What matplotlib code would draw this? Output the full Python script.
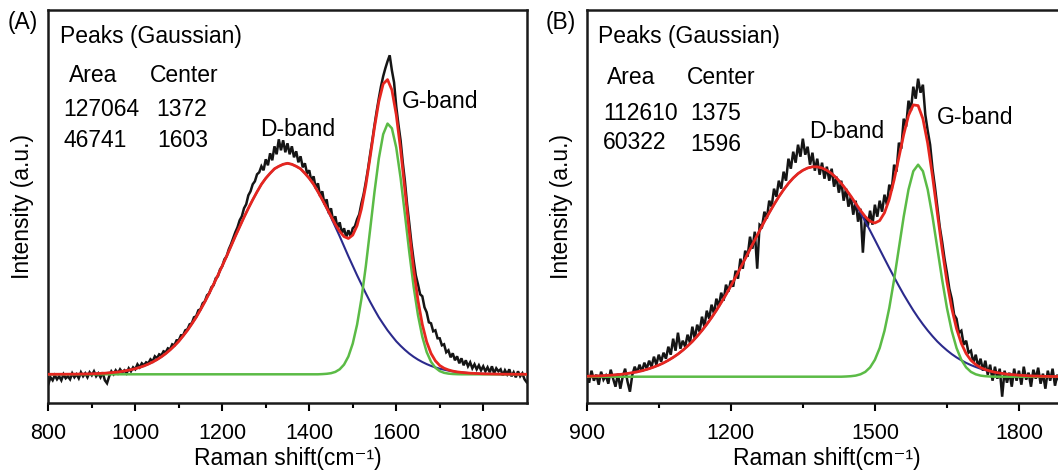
import numpy as np
import matplotlib
matplotlib.use("Agg")
import matplotlib.pyplot as plt
from matplotlib.ticker import FixedLocator

plt.rcParams['font.family'] = ['Liberation Sans', 'DejaVu Sans']

# ---------------- data: panel A ----------------
# measured spectrum, sampled every 5 cm-1 from 800 to 1900
spec_A_start, spec_A_step = 800, 5
spectrum_A = [
    -10, -3, -6, -1, -5, -2, -6, 0, -4, -2, -5, 1, -3, 0, -4, 2, -2, 1, -3, 2,
    -1, 3, -2, 1, -3, 2, -6, -9, -2, 3, 0, 4, 1, 5, 2, 4, 1, 6, 3, 7,
    5, 10, 7, 11, 9, 12, 11, 15, 13, 18, 16, 20, 19, 23, 22, 26, 25, 30, 29, 34,
    34, 39, 39, 44, 45, 50, 51, 57, 58, 64, 65, 71, 73, 79, 81, 87, 89, 96, 98, 105,
    108, 115, 118, 125, 130, 136, 142, 147, 154, 158, 166, 170, 179, 183, 190, 193, 200, 202, 208, 204,
    215, 209, 221, 214, 228, 220, 235, 224, 234, 222, 231, 220, 228, 217, 223, 212, 218, 207, 211, 201,
    204, 193, 198, 186, 191, 178, 183, 170, 175, 161, 166, 153, 158, 146, 152, 141, 146, 137, 144, 138,
    146, 148, 155, 160, 171, 180, 192, 205, 220, 234, 249, 263, 276, 288, 298, 306, 313, 319, 304, 292,
    268, 250, 234, 212, 193, 170, 151, 131, 114, 99, 90, 80, 78, 67, 62, 52, 51, 43, 44, 36,
    36, 29, 30, 22, 24, 17, 21, 14, 18, 11, 16, 9, 14, 8, 12, 6, 10, 5, 9, 4,
    8, 3, 7, 2, 8, 1, 6, 3, 5, -1, 4, 0, 5, -2, 2, -3, 3, -2, 1, -5, -8,
]
# fitted Gaussian components, sampled every 10 cm-1 from 800 to 1900
fit_A_start, fit_A_step = 800, 10
d_band_A = [
    0.03, 0.04, 0.05, 0.07, 0.1, 0.13, 0.17, 0.23, 0.3, 0.4,
    0.5, 0.7, 0.9, 1.1, 1.5, 1.9, 2.3, 2.9, 3.7, 4.6,
    5.6, 6.9, 8.4, 10.2, 12.3, 14.7, 17.5, 20.7, 24.4, 28.5,
    33, 38.4, 44, 50.4, 57, 64.6, 72.5, 81, 90, 99,
    108.5, 118, 128, 138, 147.5, 157, 166, 174.5, 182.5, 190,
    196, 201, 205.5, 208, 210, 211, 210, 208, 205.5, 201,
    196, 190, 182.5, 174.5, 166, 157, 147.5, 138, 128, 118,
    108.5, 99, 90, 81, 72.5, 64.6, 57, 50.4, 44, 38.4,
    33, 28.5, 24.4, 20.7, 17.5, 14.7, 12.3, 10.2, 8.4, 6.9,
    5.6, 4.6, 3.7, 2.9, 2.3, 1.9, 1.5, 1.1, 0.9, 0.7,
    0.5, 0.4, 0.3, 0.23, 0.17, 0.13, 0.1, 0.07, 0.05, 0.04, 0.03,
]
g_band_A = [
    0, 0, 0, 0, 0, 0, 0, 0, 0, 0,
    0, 0, 0, 0, 0, 0, 0, 0, 0, 0,
    0, 0, 0, 0, 0, 0, 0, 0, 0, 0,
    0, 0, 0, 0, 0, 0, 0, 0, 0, 0,
    0, 0, 0, 0, 0, 0, 0, 0, 0, 0,
    0, 0, 0, 0, 0, 0, 0, 0, 0, 0,
    0, 0, 0, 0.2, 0.5, 1.1, 2.4, 5.0, 9.7, 17.8,
    30.7, 49.7, 75.5, 107.8, 144.7, 182.3, 215.8, 240, 250.7, 246,
    226.8, 196.5, 159.9, 122.2, 87.7, 59.2, 37.5, 22.3, 12.5, 6.6,
    3.2, 1.5, 0.7, 0.3, 0.1, 0, 0, 0, 0, 0,
    0, 0, 0, 0, 0, 0, 0, 0, 0, 0, 0,
]
area_A = ["127064", "46741"]
center_A = ["1372", "1603"]
xticks_A = [800, 1000, 1200, 1400, 1600, 1800]
xminor_A = [900, 1100, 1300, 1500, 1700]
xlim_A = (800, 1900)

# ---------------- data: panel B ----------------
spec_B_start, spec_B_step = 900, 5
spectrum_B = [
    3, -6, 6, -4, 2, -8, 5, -3, 1, -7, 7, -2, -10, 3, -12, 0, 8, -5, -15, 2,
    10, 4, 12, 5, 14, 8, 16, 10, 20, 12, 22, 15, 24, 18, 30, 22, 38, 26, 44, 28,
    36, 30, 42, 34, 50, 38, 52, 45, 60, 50, 66, 58, 72, 63, 78, 70, 84, 76, 92, 85,
    96, 90, 106, 98, 118, 108, 126, 120, 140, 128, 145, 108, 152, 150, 165, 158, 176, 170, 188, 180,
    196, 188, 205, 196, 218, 208, 225, 214, 232, 220, 238, 222, 230, 212, 224, 206, 218, 202, 214, 198,
    210, 196, 208, 190, 200, 184, 196, 176, 188, 170, 180, 162, 176, 155, 168, 124, 160, 150, 166, 152,
    172, 160, 176, 165, 182, 172, 192, 186, 212, 205, 234, 228, 258, 250, 276, 266, 290, 278, 298, 284,
    292, 262, 246, 232, 208, 190, 170, 150, 135, 118, 104, 88, 78, 62, 58, 44, 46, 32, 36, 24,
    26, 14, 22, 10, 18, 6, 16, 2, 12, -4, 10, -2, 8, -20, 6, -6, 4, -10, 8, -4,
    6, -8, 10, -3, 4, -10, 7, -2, 9, -7, 3, -12, 6, -4, 8, -9, 2, -6, 7, -3, 2,
]
fit_B_start, fit_B_step = 900, 10
d_band_B = [
    0.4, 0.6, 0.7, 0.9, 1.2, 1.5, 1.9, 2.3, 2.9, 3.6,
    4.4, 5.4, 6.6, 8.0, 9.7, 11.6, 13.8, 16.4, 19.3, 22.6,
    26.4, 30.6, 35.2, 40.5, 46.2, 52.4, 59.1, 66.3, 74.1, 82.1,
    90.7, 99.6, 108.7, 118.0, 127.4, 136.8, 146.1, 155.2, 163.9, 172.2,
    180.0, 187.0, 193.3, 198.7, 203.1, 206.4, 208.7, 209.9, 209.9, 208.7,
    206.4, 203.1, 198.7, 193.3, 187.0, 180.0, 172.2, 163.9, 155.2, 146.1,
    136.8, 127.4, 118.0, 108.7, 99.6, 90.7, 82.1, 74.1, 66.3, 59.1,
    52.4, 46.2, 40.5, 35.2, 30.6, 26.4, 22.6, 19.3, 16.4, 13.8,
    11.6, 9.7, 8.0, 6.6, 5.4, 4.4, 3.6, 2.9, 2.3, 1.9,
    1.5, 1.2, 0.9, 0.7, 0.6, 0.4, 0.3, 0.2, 0.2, 0.1, 0.1,
]
g_band_B = [
    0, 0, 0, 0, 0, 0, 0, 0, 0, 0,
    0, 0, 0, 0, 0, 0, 0, 0, 0, 0,
    0, 0, 0, 0, 0, 0, 0, 0, 0, 0,
    0, 0, 0, 0, 0, 0, 0, 0, 0, 0,
    0, 0, 0, 0, 0, 0, 0, 0, 0, 0,
    0, 0, 0, 0, 0.2, 0.5, 1.1, 2.4, 4.8, 9.3,
    16.9, 28.7, 45.9, 68.8, 97.1, 128.6, 160, 187.1, 205.5, 212,
    205.5, 187.1, 160, 128.6, 97.1, 68.8, 45.9, 28.7, 16.9, 9.3,
    4.8, 2.4, 1.1, 0.5, 0.2, 0, 0, 0, 0, 0,
    0, 0, 0, 0, 0, 0, 0, 0, 0, 0, 0,
]
area_B = ["112610", "60322"]
center_B = ["1375", "1596"]
xticks_B = [900, 1200, 1500, 1800]
xminor_B = [1050, 1350, 1650]
xlim_B = (900, 1900)

# ---------------- styling ----------------
W, H = 1058, 471
fig = plt.figure(figsize=(W / 100, H / 100), dpi=100)

C_BLACK = '#151515'
C_RED = '#e6261f'
C_GREEN = '#5bbb46'
C_BLUE = '#2b2a8c'
FS = 16.5
TICK_FS = 15.5


def px_axes(l, t, r, b):
    return fig.add_axes([l / W, 1 - b / H, (r - l) / W, (b - t) / H])


def ftext(px, py, s, **kw):
    kw.setdefault('fontsize', FS)
    kw.setdefault('va', 'center')
    kw.setdefault('ha', 'left')
    fig.text(px / W, 1 - py / H, s, **kw)


def draw_panel(ax, spec_start, spec_step, spectrum, fit_start, fit_step,
               d_band, g_band, xlim, ylim, xticks, xminor):
    xs = spec_start + spec_step * np.arange(len(spectrum))
    xf = fit_start + fit_step * np.arange(len(d_band))
    d = np.array(d_band)
    g = np.array(g_band)
    ax.plot(xs, spectrum, color=C_BLACK, lw=1.8, zorder=2, solid_joinstyle='miter')
    ax.plot(xf, d, color=C_BLUE, lw=1.5, zorder=3)
    ax.plot(xf, g, color=C_GREEN, lw=1.8, zorder=4)
    ax.plot(xf, d + g, color=C_RED, lw=2.0, zorder=5)
    ax.set_xlim(*xlim)
    ax.set_ylim(*ylim)
    ax.set_yticks([])
    ax.xaxis.set_major_locator(FixedLocator(xticks))
    ax.xaxis.set_minor_locator(FixedLocator(xminor))
    ax.tick_params(axis='x', which='major', direction='out', length=6, width=1.5,
                   labelsize=TICK_FS, pad=8)
    ax.tick_params(axis='x', which='minor', direction='out', length=3.5, width=1.5)
    for s in ax.spines.values():
        s.set_linewidth(1.8)
        s.set_color('#1a1a1a')
    ax.set_xlabel('Raman shift(cm\u207b\u00b9)', fontsize=FS, labelpad=2)
    ax.set_ylabel('Intensity (a.u.)', fontsize=FS, labelpad=10)


axA = px_axes(48.3, 10, 526.7, 403.3)
draw_panel(axA, spec_A_start, spec_A_step, spectrum_A, fit_A_start, fit_A_step,
           d_band_A, g_band_A, xlim_A, (-29, 364.3), xticks_A, xminor_A)

axB = px_axes(586.7, 10, 1067, 403.3)
draw_panel(axB, spec_B_start, spec_B_step, spectrum_B, fit_B_start, fit_B_step,
           d_band_B, g_band_B, xlim_B, (-26.6, 366.7), xticks_B, xminor_B)

# ---------------- annotations ----------------
ftext(8, 22, '(A)')
ftext(60, 36, 'Peaks (Gaussian)')
ftext(69, 76, 'Area')
ftext(150, 76, 'Center')
ftext(63, 109, area_A[0])
ftext(156, 109, center_A[0])
ftext(64, 141, area_A[1])
ftext(157, 141, center_A[1])
ftext(260, 130, 'D-band')
ftext(402, 102, 'G-band')

ftext(546, 22, '(B)')
ftext(598, 36, 'Peaks (Gaussian)')
ftext(607, 78, 'Area')
ftext(687, 78, 'Center')
ftext(603, 114, area_B[0])
ftext(690, 114, center_B[0])
ftext(603, 143, area_B[1])
ftext(690, 145, center_B[1])
ftext(809, 132, 'D-band')
ftext(937, 117, 'G-band')

fig.savefig('out.png', dpi=100)
